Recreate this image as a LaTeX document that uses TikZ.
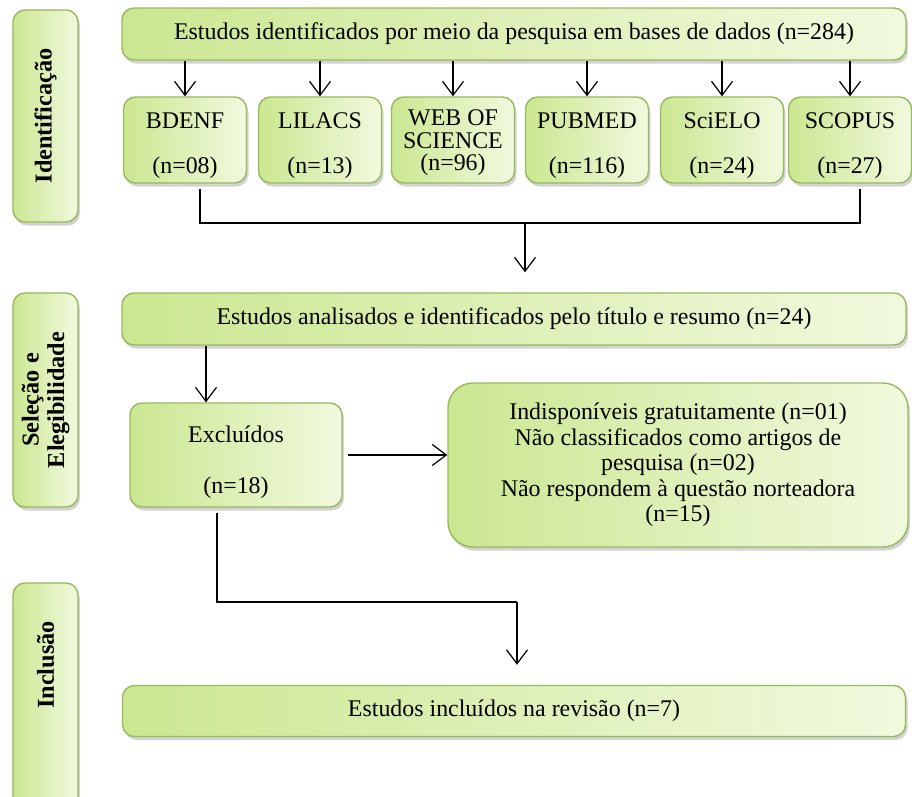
\documentclass[tikz,border=0pt]{standalone}
\usepackage{fontspec}
\setmainfont{Liberation Serif}
\usetikzlibrary{positioning, arrows.meta, shadows}
\definecolor{boxleft}{HTML}{CBE791}
\definecolor{boxright}{HTML}{F1F9DE}
\definecolor{boxline}{HTML}{98B85E}

\begin{document}
\begin{tikzpicture}[x=0.2mm, y=-0.2mm,
        box/.style={draw=boxline, line width=0.8pt, rounded corners=2.4mm, left color=boxleft, right color=boxright,
          drop shadow={opacity=0.35, shadow xshift=0.4mm, shadow yshift=-0.7mm},
          align=center, inner sep=0pt, font=\fontsize{13.6}{14.5}\selectfont},
        dbbox/.style={box, minimum width=24.6mm, minimum height=17.2mm, text height=41pt},
        side/.style={box, rotate=90, font=\fontsize{13.8}{14.5}\selectfont\bfseries},
        arr/.style={-{Straight Barb[length=2.8mm, width=4.2mm]}, line width=0.7pt},
        link/.style={line width=0.7pt}
    ]
      \useasboundingbox (0,0) rectangle (912,796);
      \clip (0,0) rectangle (912,796);

      % Phases
      \node[side, minimum width=42.4mm, minimum height=13mm] (ident) at (45.5,116) {Identificação};
      \node[side, minimum width=42.8mm, minimum height=13mm] (selec) at (45.5,400) {Seleção e\\Elegibilidade};
      \node[side, minimum width=48mm, minimum height=13mm] (incbar) at (45.5,703) {};
      \node[rotate=90, font=\fontsize{13.8}{14.5}\selectfont\bfseries] (inclabel) at (45.5,665) {Inclusão};

      % Identification
      \node[box, minimum width=156.8mm, minimum height=10.4mm] (busca) at (514,34)
        {Estudos identificados por meio da pesquisa em bases de dados (n=284)};
      \node[dbbox] (bdenf) at (185,140) {BDENF\\[11pt](n=08)};
      \node[dbbox] (lilacs) at (320,140) {LILACS\\[11pt](n=13)};
      \node[dbbox, text height=38pt] (wos) at (453,140) {WEB OF\\[-1.5pt]SCIENCE\\[-1.5pt](n=96)};
      \node[dbbox] (pubmed) at (587,140) {PUBMED\\[11pt](n=116)};
      \node[dbbox] (scielo) at (722,140) {SciELO\\[11pt](n=24)};
      \node[dbbox] (scopus) at (850,140) {SCOPUS\\[11pt](n=27)};

      \foreach \db in {bdenf, lilacs, wos, pubmed, scielo, scopus}
        \draw[arr] (busca.south -| \db.north) -- (\db.north);

      \coordinate (juncao) at (525,223);
      \draw[link] ([xshift=3mm, yshift=-1mm]bdenf.south) |- (juncao) -| ([xshift=2mm, yshift=-1mm]scopus.south);

      % Selection
      \node[box, minimum width=156.8mm, minimum height=10.4mm] (analise) at (514,319)
        {Estudos analisados e identificados pelo título e resumo (n=24)};
      \draw[arr] (juncao) -- ([yshift=4mm]analise.north -| juncao);

      \node[box, minimum width=42.4mm, minimum height=20.8mm, text height=47pt] (excl) at (236,455) {Excluídos\\[14.5pt](n=18)};
      \node[box, rounded corners=5mm, minimum width=92mm, minimum height=32.8mm] (motivos) at (678,465)
        {Indisponíveis gratuitamente (n=01)\\Não classificados como artigos de\\pesquisa (n=02)\\Não respondem à questão norteadora\\(n=15)};

      \coordinate (exin) at ([xshift=-6mm]excl.north);
      \draw[arr] (exin |- analise.south) -- (exin);
      \draw[arr] ([xshift=1mm]excl.east) -- (excl.east -| motivos.west);

      % Inclusion
      \node[box, minimum width=156.6mm, minimum height=10.2mm] (incl) at (514,711)
        {Estudos incluídos na revisão (n=7)};
      \coordinate (desvio) at (517,602);
      \draw[link] ([xshift=-3.8mm, yshift=-1mm]excl.south) |- (desvio);
      \draw[arr] (desvio) -- ([yshift=4mm]incl.north -| desvio);
\end{tikzpicture}
\end{document}
